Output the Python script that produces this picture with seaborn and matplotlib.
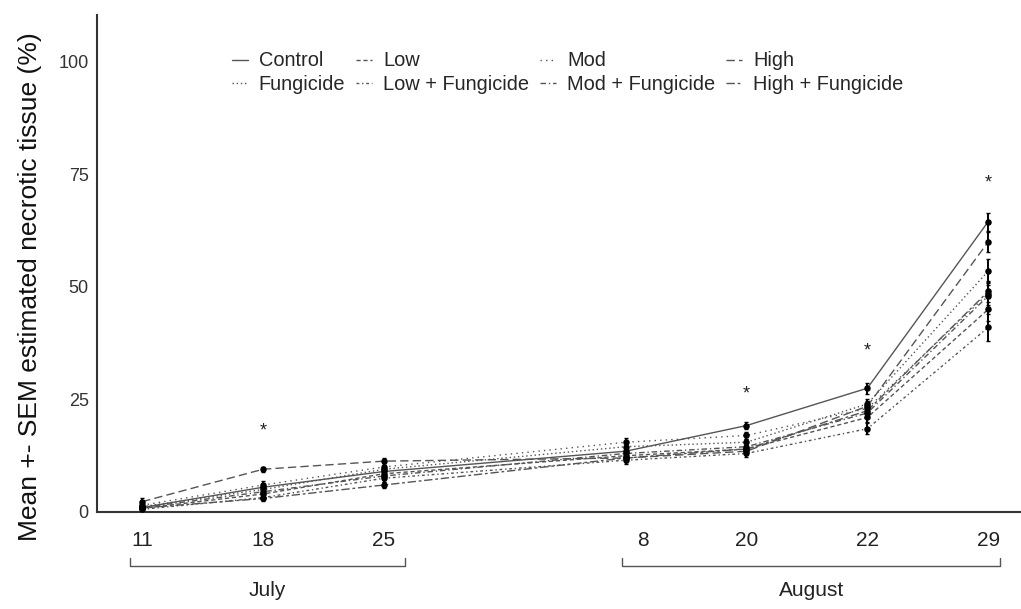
import numpy as np
import pandas as pd
import matplotlib
matplotlib.use("Agg")
import matplotlib.pyplot as plt
import matplotlib.transforms as mtransforms
from matplotlib.lines import Line2D
import seaborn as sns

# Sampling days, counted from 1 July (Aug d -> 31 + d)
days = [11, 18, 25, 39, 46, 53, 60]

# Date labels shown under the axis and where they sit (same day scale)
date_labels = ["11", "18", "25", "8", "20", "22", "29"]
date_label_pos = [11, 18, 25, 40, 46, 53, 60]

treatments = ["Control", "Fungicide", "Low", "Low + Fungicide",
              "Mod", "Mod + Fungicide", "High", "High + Fungicide"]

# Mean estimated necrotic tissue (%) per treatment
mean_control = [1.0, 5.5, 9.0, 13.5, 19.2, 27.5, 64.5]
mean_fung = [1.2, 5.0, 9.5, 14.5, 15.5, 24.0, 53.5]
mean_low = [0.8, 4.0, 8.5, 12.5, 14.0, 21.0, 45.0]
mean_low_f = [0.6, 3.2, 7.5, 11.5, 13.0, 18.5, 41.0]
mean_mod = [1.5, 6.0, 10.0, 15.5, 17.0, 23.0, 48.5]
mean_mod_f = [1.0, 4.5, 8.0, 13.0, 14.5, 22.0, 48.0]
mean_high = [2.3, 9.5, 11.3, 12.0, 13.5, 23.5, 60.0]
mean_high_f = [0.9, 3.0, 6.0, 12.0, 14.0, 22.5, 49.0]

# Standard error of the mean
sem_control = [0.6, 0.8, 1.0, 1.0, 0.8, 1.2, 2.0]
sem_fung = [0.5, 0.7, 0.9, 0.9, 0.8, 1.0, 2.6]
sem_low = [0.4, 0.6, 0.8, 0.8, 0.7, 1.0, 2.5]
sem_low_f = [0.4, 0.6, 0.8, 0.8, 0.7, 1.2, 3.0]
sem_mod = [0.6, 0.8, 0.9, 0.9, 0.8, 1.0, 2.5]
sem_mod_f = [0.5, 0.7, 0.8, 0.8, 0.7, 1.0, 2.4]
sem_high = [0.8, 0.6, 0.8, 0.9, 0.8, 1.1, 2.2]
sem_high_f = [0.4, 0.6, 0.7, 0.8, 0.7, 1.0, 2.4]

# Significance markers: (day, height)
star_days = [18, 46, 53, 60]
star_y = [18.0, 26.2, 35.8, 73.0]

means = [mean_control, mean_fung, mean_low, mean_low_f,
         mean_mod, mean_mod_f, mean_high, mean_high_f]
sems = [sem_control, sem_fung, sem_low, sem_low_f,
        sem_mod, sem_mod_f, sem_high, sem_high_f]

dash_styles = {
    "Control": "",
    "Fungicide": (1, 2),
    "Low": (3, 2),
    "Low + Fungicide": (2, 2, 1, 2),
    "Mod": (1, 3),
    "Mod + Fungicide": (4, 2, 1, 2),
    "High": (6, 3),
    "High + Fungicide": (6, 2, 2, 2),
}

rows = []
for t, m, s in zip(treatments, means, sems):
    for d, mv, sv in zip(days, m, s):
        rows.append({"day": d, "mean": mv, "sem": sv, "treatment": t})
df = pd.DataFrame(rows)

sns.set_theme(style="white")
plt.rcParams["font.family"] = ["Liberation Sans", "DejaVu Sans"]

fig = plt.figure(figsize=(10.21, 6.09), dpi=100)
ax = fig.add_axes([97 / 1021, 1 - 512 / 609, 1 - 97 / 1021, (512 - 15) / 609])

line_color = "#555555"
sns.lineplot(data=df, x="day", y="mean", style="treatment",
             style_order=treatments, dashes=dash_styles, color=line_color,
             linewidth=1.0, legend=False, ax=ax, errorbar=None)
ax.errorbar(df["day"], df["mean"], yerr=df["sem"], fmt="none",
            ecolor="black", elinewidth=1.4, capsize=1.5, capthick=1.0, zorder=3)
sns.scatterplot(data=df, x="day", y="mean", color="black", s=22,
                edgecolor="black", linewidth=0, legend=False, ax=ax, zorder=4)

for d, y in zip(star_days, star_y):
    ax.text(d, y, "*", ha="center", va="center", fontsize=13, color="#222222")

ax.set_xlim(8.38, 61.9)
ax.set_ylim(0, 110.4)
ax.set_xticks([10, 20, 30, 40, 50, 60])
ax.set_xticklabels([])
ax.set_yticks([0, 25, 50, 75, 100])
ax.tick_params(axis="both", direction="out", length=4, width=1.0,
               color="#333333", labelsize=13, labelcolor="#333333")
ax.tick_params(axis="y", pad=2)
for side in ["top", "right"]:
    ax.spines[side].set_visible(False)
for side in ["left", "bottom"]:
    ax.spines[side].set_color("#333333")
    ax.spines[side].set_linewidth(1.5)
ax.set_xlabel("")
ax.set_ylabel("Mean +- SEM estimated necrotic tissue (%)", fontsize=19,
              color="#111111")
ax.yaxis.set_label_coords(-0.0596, 0.453)

# Date labels and month brackets under the axis
trans = mtransforms.blended_transform_factory(ax.transData, fig.transFigure)
for p, lab in zip(date_label_pos, date_labels):
    ax.text(p, 1 - 541 / 609, lab, transform=trans, ha="center", va="center",
            fontsize=15, color="#222222")

def bracket(x0, x1, label):
    yb = 1 - 566 / 609
    yt = 1 - 558 / 609
    ax.plot([x0, x0, x1, x1], [yt, yb, yb, yt], transform=trans,
            color="#555555", lw=1.0, clip_on=False)
    ax.text((x0 + x1) / 2, 1 - 591 / 609, label, transform=trans,
            ha="center", va="center", fontsize=15, color="#222222")

bracket(10.29, 26.2, "July")
bracket(38.8, 60.7, "August")

handles = [Line2D([0], [0], color=line_color, lw=1.0,
                  linestyle=(0, dash_styles[t]) if dash_styles[t] else "-")
           for t in treatments]
fig.legend(handles, treatments, loc="center", bbox_to_anchor=(0.556, 1 - 72.5 / 609),
           ncol=4, frameon=False, fontsize=14.4, handlelength=0.8,
           handletextpad=0.55, columnspacing=0.55, labelspacing=0.2,
           borderpad=0.0)

fig.savefig("out.png", dpi=100)
